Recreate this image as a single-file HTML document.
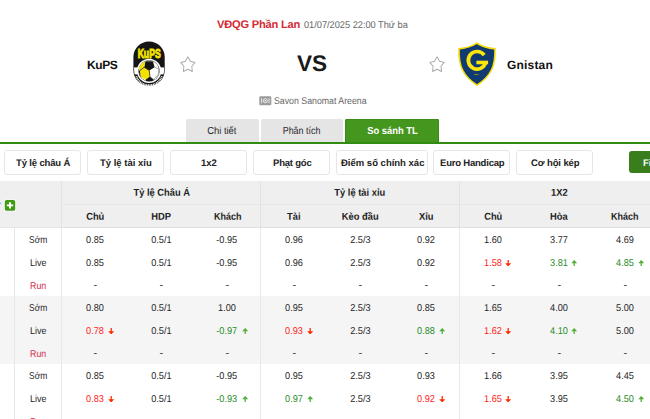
<!DOCTYPE html>
<html><head><meta charset="utf-8"><title>So sánh TL</title>
<style>
html,body{margin:0;padding:0;}
body{width:650px;height:419px;overflow:hidden;background:#fff;position:relative;font-family:"Liberation Sans",sans-serif;color:#222;}
.abs{position:absolute;white-space:nowrap;line-height:1;}
#lg{left:217.2px;top:19.2px;font-size:11.1px;font-weight:700;color:#d42a33;letter-spacing:-0.2px;transform:rotate(0.03deg);transform-origin:0 50%;}
#dt{left:304px;top:20.4px;font-size:9.8px;color:#666;transform:scaleX(0.94) rotate(0.03deg);transform-origin:0 0;}
#hn{left:87.4px;top:58.5px;font-size:12px;font-weight:700;color:#111;letter-spacing:-0.4px;transform:rotate(0.03deg);transform-origin:0 50%;}
#an{left:507px;top:58.5px;font-size:12px;font-weight:700;color:#111;letter-spacing:0.19px;transform:rotate(0.03deg);transform-origin:0 50%;}
#vs{left:297.2px;top:52.6px;font-size:22.6px;font-weight:700;color:#1a1a1a;transform:rotate(0.03deg);}
#vn{left:274.2px;top:95.7px;font-size:9.8px;color:#666;transform:scaleX(0.895) rotate(0.03deg);transform-origin:0 0;}
.tab{position:absolute;top:119px;height:23px;background:#e5e5e5;border-radius:2px 2px 0 0;font-size:10.2px;color:#2a2a2a;text-align:center;line-height:23px;white-space:nowrap;}
#t1{left:186px;width:72.6px;}
#t1 span{transform:scaleX(0.92) rotate(0.03deg);}
#t2{left:261px;width:82px;}
#t2 span{transform:scaleX(0.875) rotate(0.03deg);}
#t3{left:345px;width:94px;background:#45961f;box-shadow:inset 1px 1px 0 #3c8c18, inset -1px 0 0 #3c8c18;color:#fff;font-weight:700;}
#t3 span{transform:scaleX(0.92) rotate(0.03deg);}
.tab span{display:inline-block;}
.bs{display:inline-block;transform:rotate(0.03deg);}
#gl{position:absolute;left:0;top:142px;width:650px;height:2px;background:#318c12;}
.fb{position:absolute;top:150px;height:22.5px;border:1px solid #e6e6e6;border-radius:3px;background:#fff;font-size:9.5px;font-weight:700;color:#222;text-align:center;line-height:23px;white-space:nowrap;box-sizing:content-box;}
#gb{position:absolute;left:629.4px;top:151px;width:30px;height:22.4px;background:#3a7d1c;border-radius:3px;color:#fff;font-weight:700;font-size:9.5px;line-height:23.6px;white-space:nowrap;}
#gb span{display:inline-block;margin-left:13.6px;transform:rotate(0.03deg);}
table{position:absolute;left:0;top:181px;width:657.75px;border-collapse:collapse;table-layout:fixed;font-size:10px;}
.s{display:inline-block;font-size:10px;transform:translateX(0.3px) scaleX(0.92) rotate(0.03deg);}
.s.d{transform:translate(0.6px,-0.8px) scaleX(1.1) rotate(0.03deg);}
.hs{display:inline-block;transform:translate(0.5px,-0.3px) scaleX(0.935) rotate(0.03deg);}
th,td{padding:0;height:23px;text-align:center;vertical-align:middle;white-space:nowrap;overflow:visible;}
thead th{background:#efefef;font-weight:700;color:#222;height:22px;font-size:10px;}
thead tr.h1 th{height:23px;}
thead tr.h1 th{border-bottom:1px solid #e6e6e6;}
thead tr.h2 th{border-bottom:1px solid #e0e0e0;}
thead th.first{border-bottom:1px solid #e0e0e0;}
.bl{border-left:1px solid #e2e2e2;}
tbody td{color:#262626;}
tbody td.c0{border-right:1px solid #e8e8e8;}
tbody td.lab{border-right:1px solid #e8e8e8;}
tbody td.lab span{display:inline-block;transform-origin:50% 50%;}
.lS span{transform:translateX(0.5px) scaleX(0.85) rotate(0.03deg);}
.lL span{transform:scaleX(0.9) rotate(0.03deg);}
.lR span{transform:scaleX(0.88) rotate(0.03deg);}
tbody td.bl{border-left:1px solid #e8e8e8;}
tbody tr.r2 td{height:22px;}
tr.g td{background:#f5f5f5;}
td.run{color:#d0304a;}
td.up{color:#1f8c1f;}
td.dn{color:#ff2222;}
.n{position:relative;display:inline-block;}
.ar{position:absolute;left:100%;margin-left:3.3px;top:2.5px;}
</style></head><body>
<div class="abs" id="lg">VĐQG Phần Lan</div>
<div class="abs" id="dt">01/07/2025 22:00 Thứ ba</div>
<div class="abs" id="hn">KuPS</div>
<div class="abs" id="an">Gnistan</div>
<div class="abs" id="vs">VS</div>
<div class="abs" id="vn">Savon Sanomat Areena</div>

<!-- KuPS logo -->
<svg style="position:absolute;left:132px;top:40px" width="34" height="48" viewBox="132 40 34 48">
<defs><clipPath id="pill"><rect x="134.1" y="42.1" width="30" height="43.1" rx="15" ry="15"/></clipPath><clipPath id="ball"><circle cx="149.1" cy="70.9" r="10.3"/></clipPath></defs>
<rect x="133.4" y="41.4" width="31.3" height="44.4" rx="15.65" ry="15.65" fill="#151515"/>
<g clip-path="url(#pill)">
<rect x="133" y="67.4" width="33" height="7" fill="#fff"/>
</g>
<circle cx="149.1" cy="70.9" r="12.1" fill="#fff"/>
<circle cx="149.1" cy="70.9" r="10.6" fill="#151515"/>
<g clip-path="url(#ball)">
<rect x="136" y="58" width="27" height="26" fill="#fff"/>
<polygon points="145.4,61.2 152.9,61.2 154.6,67.2 149.3,70.5 144.1,67.3" fill="#151515"/>
<polygon points="145.4,61.2 144.1,67.3 139.9,70.6 135,70.2 135,59 145.6,59" fill="#f3e200"/>
<polygon points="144.1,67.3 149.3,70.5 149.9,76.6 145.6,79.8 140.6,77 139.9,70.6" fill="#f3e200"/>
<polygon points="139.9,70.6 140.6,77 137,80 135,70.2" fill="#151515"/>
<polygon points="145.6,79.8 149.9,76.6 153.6,79.6 152.5,83 146,83" fill="#151515"/>
<polygon points="158.4,63 161,63 161,69.6 158.7,68.9" fill="#151515"/>
<path d="M144.1 67.3 L139.9 70.6 M144.1 67.3 L149.3 70.5 L149.9 76.6 M145.4 61.2 L144.6 59.5" stroke="#1c1c1c" stroke-width="0.75" fill="none"/>
<path d="M154.6 67.2 L158.7 68.9 M149.9 76.6 L153.6 79.6 M158.7 68.9 L158.3 74.6 L153.6 79.6 M158.3 74.6 L161 76 M152.9 61.2 L154 59.8" stroke="#666" stroke-width="0.55" fill="none"/>
</g>
<path d="M136.3 76.2 A13.6 13.6 0 0 0 161.9 76.2" fill="none" stroke="#fff" stroke-width="1.7" stroke-dasharray="1.1 0.6"/>
<text x="149.15" y="58" text-anchor="middle" font-family="Liberation Sans, sans-serif" font-weight="700" font-size="12.4" fill="#f3e200" stroke="#f3e200" stroke-width="0.95" textLength="23" lengthAdjust="spacingAndGlyphs">KuPS</text>
</svg>

<!-- stars -->
<svg style="position:absolute;left:177px;top:54px" width="22" height="20" viewBox="177 54 22 20"><polygon transform="translate(187.85,64.9) scale(1,1.066)" points="0.00,-7.55 2.44,-3.36 7.18,-2.33 3.95,1.28 4.44,6.11 0.00,4.15 -4.44,6.11 -3.95,1.28 -7.18,-2.33 -2.44,-3.36" fill="#fff" stroke="#a6a9ae" stroke-width="0.95" stroke-linejoin="round"/></svg>
<svg style="position:absolute;left:426px;top:54px" width="22" height="20" viewBox="426 54 22 20"><polygon transform="translate(437.05,64.9) scale(1,1.066)" points="0.00,-7.55 2.44,-3.36 7.18,-2.33 3.95,1.28 4.44,6.11 0.00,4.15 -4.44,6.11 -3.95,1.28 -7.18,-2.33 -2.44,-3.36" fill="#fff" stroke="#a6a9ae" stroke-width="0.95" stroke-linejoin="round"/></svg>

<!-- Gnistan logo -->
<svg style="position:absolute;left:456px;top:40px" width="42" height="48" viewBox="456 40 42 48">
<path d="M476.9 43.2 C472 46.4 466 48.2 459 48.9 C458.8 58 460 65 462.6 70 C465.4 75.8 470.4 80.8 477 85.2 C483.6 80.8 488.6 75.8 491.4 70 C494 65 495.2 58 495 48.9 C488 48.2 482 46.4 476.9 43.2 Z" fill="#103a70" stroke="#f4dc0a" stroke-width="1.6" stroke-linejoin="miter"/>
<path d="M484.2 55.1 A8.8 8.8 0 1 0 485.6 62.6" fill="none" stroke="#fbe50c" stroke-width="3.7"/>
<rect x="476.4" y="60.7" width="11.7" height="3.6" fill="#fbe50c"/>
<rect x="474.2" y="74" width="4.4" height="0.9" fill="#d9c800" opacity="0.6"/>
</svg>

<!-- venue icon -->
<svg style="position:absolute;left:259px;top:96px" width="13" height="10" viewBox="0 0 13 10">
<rect x="0.3" y="0.2" width="12" height="9" rx="1.2" fill="#9a9a9a"/>
<circle cx="6.3" cy="4.7" r="2" fill="none" stroke="#fff" stroke-width="0.8"/>
<circle cx="6.3" cy="4.7" r="0.7" fill="#fff"/>
<path d="M2.6 2.2 V7.2 M10 2.2 V7.2" stroke="#fff" stroke-width="0.8" fill="none"/>
</svg>

<div class="tab" id="t1"><span>Chi tiết</span></div>
<div class="tab" id="t2"><span>Phân tích</span></div>
<div class="tab" id="t3"><span>So sánh TL</span></div>
<div id="gl"></div>

<div class="fb" style="left:4.4px;width:75px;letter-spacing:-0.15px;"><span class="bs">Tỷ lệ châu Á</span></div>
<div class="fb" style="left:87.4px;width:75px;"><span class="bs">Tỷ lệ tài xỉu</span></div>
<div class="fb" style="left:170.4px;width:75px;"><span class="bs">1x2</span></div>
<div class="fb" style="left:253.4px;width:75px;letter-spacing:-0.2px;"><span class="bs">Phạt góc</span></div>
<div class="fb" style="left:336.2px;width:90.2px;"><span class="bs">Điểm số chính xác</span></div>
<div class="fb" style="left:433.4px;width:75px;letter-spacing:-0.2px;"><span class="bs">Euro Handicap</span></div>
<div class="fb" style="left:516.4px;width:75px;letter-spacing:-0.1px;"><span class="bs">Cơ hội kép</span></div>
<div id="gb"><span>Filter</span></div>

<svg style="position:absolute;left:0;top:198px;z-index:2" width="18" height="15" viewBox="0 198 18 15"><rect x="3.9" y="199.2" width="12.1" height="12.3" rx="2" fill="#fff" opacity="0.55"/><rect x="4.8" y="200" width="10.4" height="10.7" rx="1.7" fill="#409a14"/><path d="M10 202.2 V208.6 M6.8 205.4 H13.2" stroke="#fff" stroke-width="1.9"/><rect x="0" y="202.7" width="1.2" height="1.2" fill="#62b6ee"/></svg>
<table>
<colgroup><col style="width:14.5px"><col style="width:47px"><col style="width:66.25px"><col style="width:66.25px"><col style="width:66.25px"><col style="width:66.25px"><col style="width:66.25px"><col style="width:66.25px"><col style="width:66.25px"><col style="width:66.25px"><col style="width:66.25px"></colgroup>
<thead>
<tr class="h1"><th class="first" colspan="2" rowspan="2"></th><th class="bl" colspan="3"><span class="hs">Tỷ lệ Châu Á</span></th><th class="bl" colspan="3"><span class="hs">Tỷ lệ tài xỉu</span></th><th class="bl" colspan="3"><span class="hs">1X2</span></th></tr>
<tr class="h2"><th class="bl"><span class="hs">Chủ</span></th><th><span class="hs">HDP</span></th><th><span class="hs" style="transform:translate(0.5px,-0.3px) scaleX(0.9) rotate(0.03deg)">Khách</span></th><th class="bl"><span class="hs">Tài</span></th><th><span class="hs">Kèo đầu</span></th><th><span class="hs">Xỉu</span></th><th class="bl"><span class="hs">Chủ</span></th><th><span class="hs">Hòa</span></th><th><span class="hs" style="transform:translate(0.5px,-0.3px) scaleX(0.9) rotate(0.03deg)">Khách</span></th></tr>
</thead>
<tbody>
<tr class=""><td class="c0" rowspan="3"></td><td class="lab lS"><span>Sớm</span></td><td class=""><span class="s">0.85</span></td><td class=""><span class="s">0.5/1</span></td><td class=""><span class="s">-0.95</span></td><td class="bl"><span class="s">0.96</span></td><td class=""><span class="s">2.5/3</span></td><td class=""><span class="s">0.92</span></td><td class="bl"><span class="s">1.60</span></td><td class=""><span class="s">3.77</span></td><td class=""><span class="s">4.69</span></td></tr>
<tr class=""><td class="lab lL"><span>Live</span></td><td class=""><span class="s">0.85</span></td><td class=""><span class="s">0.5/1</span></td><td class=""><span class="s">-0.95</span></td><td class="bl"><span class="s">0.96</span></td><td class=""><span class="s">2.5/3</span></td><td class=""><span class="s">0.92</span></td><td class="dn bl"><span class="n"><span class="s">1.58</span><svg class="ar" width="6.4" height="6.6" viewBox="0 0 6 6"><path d="M3 6 L5.8 3 H3.6 V0 H2.4 V3 H0.2 Z" fill="#ff2a00"/></svg></span></td><td class="up "><span class="n"><span class="s">3.81</span><svg class="ar" width="6.4" height="6.6" viewBox="0 0 6 6"><path d="M3 0 L5.8 3 H3.6 V6 H2.4 V3 H0.2 Z" fill="#52ad36"/></svg></span></td><td class="up "><span class="n"><span class="s">4.85</span><svg class="ar" width="6.4" height="6.6" viewBox="0 0 6 6"><path d="M3 0 L5.8 3 H3.6 V6 H2.4 V3 H0.2 Z" fill="#52ad36"/></svg></span></td></tr>
<tr class=" r2"><td class="lab run lR"><span>Run</span></td><td class=""><span class="s d">-</span></td><td class=""><span class="s d">-</span></td><td class=""><span class="s d">-</span></td><td class="bl"><span class="s d">-</span></td><td class=""><span class="s d">-</span></td><td class=""><span class="s d">-</span></td><td class="bl"><span class="s d">-</span></td><td class=""><span class="s d">-</span></td><td class=""><span class="s d">-</span></td></tr>
<tr class="g"><td class="c0" rowspan="3"></td><td class="lab lS"><span>Sớm</span></td><td class=""><span class="s">0.80</span></td><td class=""><span class="s">0.5/1</span></td><td class=""><span class="s">1.00</span></td><td class="bl"><span class="s">0.95</span></td><td class=""><span class="s">2.5/3</span></td><td class=""><span class="s">0.85</span></td><td class="bl"><span class="s">1.65</span></td><td class=""><span class="s">4.00</span></td><td class=""><span class="s">5.00</span></td></tr>
<tr class="g"><td class="lab lL"><span>Live</span></td><td class="dn "><span class="n"><span class="s">0.78</span><svg class="ar" width="6.4" height="6.6" viewBox="0 0 6 6"><path d="M3 6 L5.8 3 H3.6 V0 H2.4 V3 H0.2 Z" fill="#ff2a00"/></svg></span></td><td class=""><span class="s">0.5/1</span></td><td class="up "><span class="n"><span class="s">-0.97</span><svg class="ar" width="6.4" height="6.6" viewBox="0 0 6 6"><path d="M3 0 L5.8 3 H3.6 V6 H2.4 V3 H0.2 Z" fill="#52ad36"/></svg></span></td><td class="dn bl"><span class="n"><span class="s">0.93</span><svg class="ar" width="6.4" height="6.6" viewBox="0 0 6 6"><path d="M3 6 L5.8 3 H3.6 V0 H2.4 V3 H0.2 Z" fill="#ff2a00"/></svg></span></td><td class=""><span class="s">2.5/3</span></td><td class="up "><span class="n"><span class="s">0.88</span><svg class="ar" width="6.4" height="6.6" viewBox="0 0 6 6"><path d="M3 0 L5.8 3 H3.6 V6 H2.4 V3 H0.2 Z" fill="#52ad36"/></svg></span></td><td class="dn bl"><span class="n"><span class="s">1.62</span><svg class="ar" width="6.4" height="6.6" viewBox="0 0 6 6"><path d="M3 6 L5.8 3 H3.6 V0 H2.4 V3 H0.2 Z" fill="#ff2a00"/></svg></span></td><td class="up "><span class="n"><span class="s">4.10</span><svg class="ar" width="6.4" height="6.6" viewBox="0 0 6 6"><path d="M3 0 L5.8 3 H3.6 V6 H2.4 V3 H0.2 Z" fill="#52ad36"/></svg></span></td><td class=""><span class="s">5.00</span></td></tr>
<tr class="g r2"><td class="lab run lR"><span>Run</span></td><td class=""><span class="s d">-</span></td><td class=""><span class="s d">-</span></td><td class=""><span class="s d">-</span></td><td class="bl"><span class="s d">-</span></td><td class=""><span class="s d">-</span></td><td class=""><span class="s d">-</span></td><td class="bl"><span class="s d">-</span></td><td class=""><span class="s d">-</span></td><td class=""><span class="s d">-</span></td></tr>
<tr class=""><td class="c0" rowspan="3"></td><td class="lab lS"><span>Sớm</span></td><td class=""><span class="s">0.85</span></td><td class=""><span class="s">0.5/1</span></td><td class=""><span class="s">-0.95</span></td><td class="bl"><span class="s">0.95</span></td><td class=""><span class="s">2.5/3</span></td><td class=""><span class="s">0.93</span></td><td class="bl"><span class="s">1.66</span></td><td class=""><span class="s">3.95</span></td><td class=""><span class="s">4.45</span></td></tr>
<tr class=""><td class="lab lL"><span>Live</span></td><td class="dn "><span class="n"><span class="s">0.83</span><svg class="ar" width="6.4" height="6.6" viewBox="0 0 6 6"><path d="M3 6 L5.8 3 H3.6 V0 H2.4 V3 H0.2 Z" fill="#ff2a00"/></svg></span></td><td class=""><span class="s">0.5/1</span></td><td class="up "><span class="n"><span class="s">-0.93</span><svg class="ar" width="6.4" height="6.6" viewBox="0 0 6 6"><path d="M3 0 L5.8 3 H3.6 V6 H2.4 V3 H0.2 Z" fill="#52ad36"/></svg></span></td><td class="up bl"><span class="n"><span class="s">0.97</span><svg class="ar" width="6.4" height="6.6" viewBox="0 0 6 6"><path d="M3 0 L5.8 3 H3.6 V6 H2.4 V3 H0.2 Z" fill="#52ad36"/></svg></span></td><td class=""><span class="s">2.5/3</span></td><td class="dn "><span class="n"><span class="s">0.92</span><svg class="ar" width="6.4" height="6.6" viewBox="0 0 6 6"><path d="M3 6 L5.8 3 H3.6 V0 H2.4 V3 H0.2 Z" fill="#ff2a00"/></svg></span></td><td class="dn bl"><span class="n"><span class="s">1.65</span><svg class="ar" width="6.4" height="6.6" viewBox="0 0 6 6"><path d="M3 6 L5.8 3 H3.6 V0 H2.4 V3 H0.2 Z" fill="#ff2a00"/></svg></span></td><td class=""><span class="s">3.95</span></td><td class="up "><span class="n"><span class="s">4.50</span><svg class="ar" width="6.4" height="6.6" viewBox="0 0 6 6"><path d="M3 0 L5.8 3 H3.6 V6 H2.4 V3 H0.2 Z" fill="#52ad36"/></svg></span></td></tr>
<tr class=" r2"><td class="lab run lR"><span>Run</span></td><td class=""><span class="s d">-</span></td><td class=""><span class="s d">-</span></td><td class=""><span class="s d">-</span></td><td class="bl"><span class="s d">-</span></td><td class=""><span class="s d">-</span></td><td class=""><span class="s d">-</span></td><td class="bl"><span class="s d">-</span></td><td class=""><span class="s d">-</span></td><td class=""><span class="s d">-</span></td></tr>
</tbody>
</table>
</body></html>
